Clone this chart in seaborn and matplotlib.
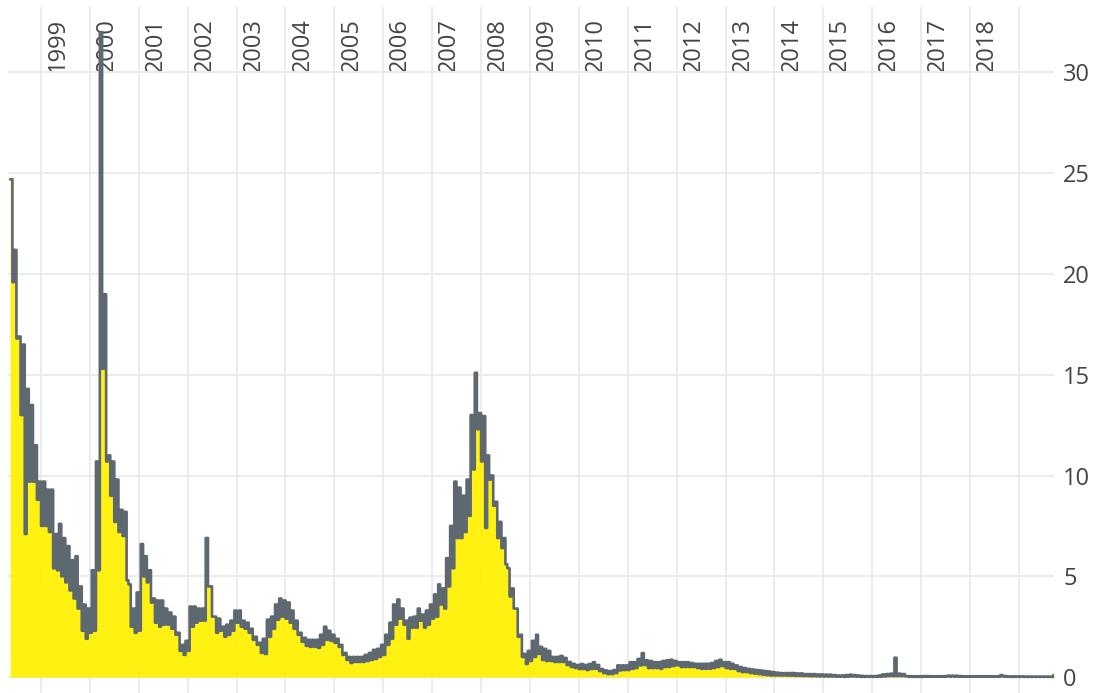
import numpy as np
import pandas as pd
import matplotlib
matplotlib.use("Agg")
import matplotlib.pyplot as plt
import seaborn as sns
from matplotlib.transforms import ScaledTranslation

# monthly high / low, May 1998 .. Sep 2019
high = [
    24.7, 21.2, 16.9, 16.5, 14.3, 13.5, 11.5, 9.7,                    # 1998 (May-Dec)
    9.7, 9.3, 9.3, 7.1, 7.6, 6.9, 6.5, 5.8, 6.0, 4.5, 3.6, 3.4,        # 1999
    5.3, 10.7, 32.0, 19.0, 11.0, 10.7, 9.8, 8.3, 8.2, 4.6, 3.4, 4.2,   # 2000
    6.6, 6.0, 5.3, 3.9, 3.8, 3.8, 3.4, 3.2, 3.0, 2.2, 1.6, 1.8,        # 2001
    3.5, 3.5, 3.4, 3.4, 6.9, 4.5, 3.0, 2.9, 2.5, 2.6, 2.8, 3.3,        # 2002
    3.3, 2.8, 2.7, 2.4, 2.0, 1.7, 1.9, 2.85, 3.0, 3.6, 3.9, 3.8,       # 2003
    3.7, 3.3, 2.8, 2.2, 1.95, 1.85, 1.85, 1.85, 2.1, 2.5, 2.3, 2.1,    # 2004
    1.9, 1.6, 1.2, 1.0, 1.0, 1.0, 1.0, 1.1, 1.2, 1.35, 1.4, 1.6,       # 2005
    2.1, 2.7, 3.6, 3.85, 3.4, 2.8, 2.95, 3.0, 3.4, 3.1, 3.3, 3.6,      # 2006
    4.1, 4.6, 4.4, 5.9, 7.5, 9.7, 9.4, 9.0, 9.8, 13.0, 15.1, 13.1,     # 2007
    12.95, 11.0, 10.0, 8.7, 7.7, 6.9, 5.4, 4.4, 3.4, 2.1, 1.15, 1.3,   # 2008
    1.8, 2.1, 1.5, 1.4, 1.3, 1.0, 1.0, 1.05, 0.95, 0.75, 0.66, 0.6,    # 2009
    0.65, 0.6, 0.65, 0.74, 0.6, 0.4, 0.33, 0.3, 0.35, 0.58, 0.58, 0.58,   # 2010
    0.74, 0.74, 0.9, 1.19, 0.83, 0.8, 0.74, 0.74, 0.8, 0.83, 0.86, 0.8,   # 2011
    0.74, 0.74, 0.74, 0.7, 0.66, 0.66, 0.66, 0.66, 0.7, 0.8, 0.86, 0.74,  # 2012
    0.74, 0.66, 0.58, 0.5, 0.45, 0.41, 0.38, 0.35, 0.33, 0.3, 0.28, 0.25, # 2013
    0.22, 0.2, 0.2, 0.2, 0.2, 0.18, 0.18, 0.15, 0.15, 0.15, 0.13, 0.13,   # 2014
    0.12, 0.12, 0.1, 0.08, 0.08, 0.1, 0.12, 0.1, 0.08, 0.06, 0.05, 0.05,  # 2015
    0.05, 0.08, 0.13, 0.15, 0.17, 0.96, 0.17, 0.15, 0.05, 0.04, 0.04, 0.04,  # 2016
    0.05, 0.05, 0.04, 0.04, 0.04, 0.05, 0.07, 0.07, 0.07, 0.05, 0.04, 0.04,  # 2017
    0.04, 0.04, 0.04, 0.04, 0.04, 0.04, 0.04, 0.1, 0.05, 0.03, 0.03, 0.03,   # 2018
    0.03, 0.02, 0.02, 0.02, 0.02, 0.02, 0.02, 0.02, 0.1,                     # 2019 (Jan-Sep)
]
low = [
    19.6, 16.8, 13.0, 7.1, 9.7, 9.7, 8.8, 7.5,                        # 1998
    7.5, 7.2, 5.4, 5.3, 5.0, 4.7, 4.3, 3.9, 3.4, 2.3, 1.9, 2.2,        # 1999
    2.3, 5.3, 15.3, 10.7, 9.0, 7.7, 7.2, 7.0, 4.8, 2.5, 2.2, 2.3,      # 2000
    5.0, 4.7, 3.7, 2.7, 2.5, 2.6, 2.6, 2.4, 2.1, 1.3, 1.1, 1.3,        # 2001
    2.5, 2.7, 2.8, 2.8, 4.5, 3.0, 2.2, 2.3, 2.0, 2.1, 2.3, 2.7,        # 2002
    2.5, 2.4, 2.2, 1.85, 1.6, 1.2, 1.15, 2.0, 2.4, 2.85, 3.0, 2.9,     # 2003
    2.7, 2.4, 2.1, 1.75, 1.55, 1.5, 1.5, 1.45, 1.6, 1.85, 1.8, 1.7,    # 2004
    1.5, 1.1, 0.85, 0.7, 0.75, 0.75, 0.75, 0.8, 0.85, 0.9, 1.0, 1.1,   # 2005
    1.6, 1.9, 2.6, 2.9, 2.6, 1.9, 2.45, 2.45, 2.8, 2.45, 2.6, 2.9,     # 2006
    3.0, 3.6, 3.4, 4.5, 5.4, 6.9, 6.9, 7.2, 8.0, 10.3, 12.3, 10.7,     # 2007
    7.4, 9.8, 8.5, 6.9, 6.4, 5.6, 4.0, 3.4, 2.0, 1.0, 0.65, 0.8,       # 2008
    1.0, 1.15, 0.85, 0.8, 0.8, 0.75, 0.75, 0.75, 0.6, 0.5, 0.45, 0.4,  # 2009
    0.4, 0.35, 0.4, 0.41, 0.3, 0.2, 0.15, 0.15, 0.2, 0.33, 0.35, 0.35,    # 2010
    0.41, 0.45, 0.58, 0.6, 0.45, 0.45, 0.45, 0.41, 0.5, 0.5, 0.55, 0.58,  # 2011
    0.5, 0.5, 0.5, 0.5, 0.45, 0.41, 0.41, 0.41, 0.45, 0.5, 0.55, 0.45,    # 2012
    0.41, 0.41, 0.3, 0.25, 0.25, 0.2, 0.17, 0.15, 0.12, 0.1, 0.08, 0.08,  # 2013
    0.08, 0.08, 0.07, 0.07, 0.06, 0.06, 0.05, 0.05, 0.04, 0.04, 0.03, 0.03,  # 2014
    0.03, 0.03, 0.02, 0.02, 0.01, 0.02, 0.03, 0.02, 0.01, 0.01, 0.01, 0.01,  # 2015
    0.01, 0.02, 0.03, 0.05, 0.05, 0.05, 0.05, 0.04, 0.01, 0.01, 0.01, 0.01,  # 2016
    0.02, 0.02, 0.02, 0.02, 0.02, 0.02, 0.02, 0.02, 0.02, 0.02, 0.02, 0.02,  # 2017
    0.02, 0.02, 0.02, 0.02, 0.02, 0.02, 0.02, 0.03, 0.02, 0.01, 0.01, 0.01,  # 2018
    0.01, 0.01, 0.01, 0.01, 0.01, 0.01, 0.01, 0.01, 0.02,                    # 2019
]
years = list(range(1999, 2020))
year_labels = [str(y) for y in range(1999, 2019)] + [""]
y_ticks = [0, 5, 10, 15, 20, 25, 30]

assert len(high) == len(low)

# half-month steps: high on the 15th, low on the 1st that follows
dates = pd.date_range("1998-05-15", periods=2 * len(high), freq="SMS")
values = np.column_stack([high, low]).ravel()
df = pd.DataFrame({"date": dates, "value": values})

sns.set_style("white")
plt.rcParams["font.family"] = ["Open Sans", "DejaVu Sans"]

fig = plt.figure(figsize=(10.99, 6.93), dpi=100)
ax = fig.add_axes([8 / 1099, 0, 1046 / 1099, 686 / 693])

ax.fill_between(df["date"], df["value"], step="post", color="#fff000",
                alpha=0.93, lw=0, zorder=2)
sns.lineplot(data=df, x="date", y="value", ax=ax, color="#5e6870",
             linewidth=1.9, drawstyle="steps-post", zorder=3)

ax.set_xlim(pd.Timestamp("1998-04-29"), pd.Timestamp("2019-09-20"))
ax.set_ylim(-0.79, 33.25)
ax.set_xlabel("")
ax.set_ylabel("")

ax.set_xticks([pd.Timestamp(f"{y}-01-01") for y in years])
ax.set_xticklabels(year_labels)
ax.xaxis.tick_top()
ax.tick_params(axis="x", length=0, pad=-46.5, labelsize=17,
               labelcolor="#444444", labelrotation=90)
ax.set_yticks(y_ticks)
ax.yaxis.tick_right()
ax.tick_params(axis="y", length=0, pad=6.5, labelsize=17, labelcolor="#444444")

shift = ScaledTranslation(17 / 100, 0, fig.dpi_scale_trans)
for lab in ax.get_xticklabels():
    lab.set_transform(lab.get_transform() + shift)

ax.grid(True, color="#ebebeb", linewidth=1.4)
ax.set_axisbelow(True)
for s in ax.spines.values():
    s.set_visible(False)

fig.savefig("out.png", dpi=100)
